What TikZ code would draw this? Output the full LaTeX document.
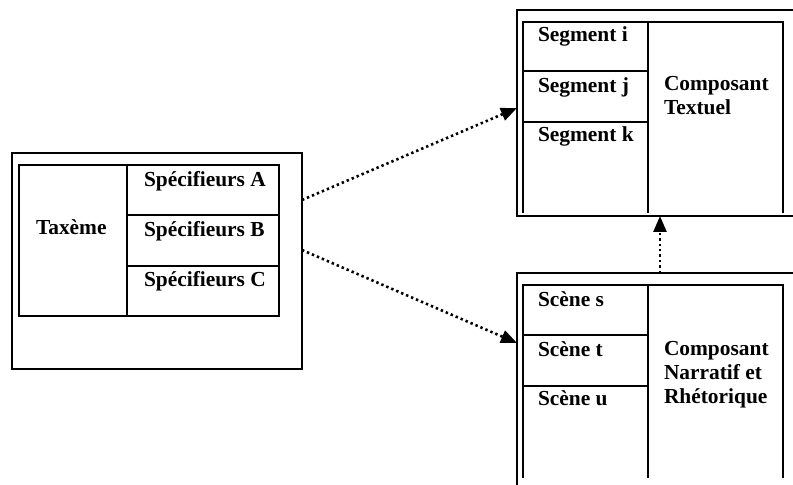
\documentclass[tikz,border=0pt]{standalone}
\usepackage{fontspec}
\setmainfont{Liberation Serif}
\usetikzlibrary{arrows.meta}

\begin{document}
\begin{tikzpicture}[x=.5pt,y=-.5pt,line width=1pt,
	lbl/.style={anchor=base west,inner sep=0pt,font=\fontsize{10.7}{12}\selectfont\bfseries},
	link/.style={line width=1.3pt,dash pattern=on 1.2pt off 1.5pt,-{Triangle[length=8pt,width=6.5pt]}}]
	\useasboundingbox (0,0) rectangle (793,485);
	
	% taxeme
	\draw (12,153) rectangle (302,369);
	\draw (19,165) rectangle (279,316);
	\draw (127,165)--(127,316);
	\draw (127,215)--(279,215);
	\draw (127,266)--(279,266);
	\node[lbl] (tax) at (35,235) {Taxème};
	\node[lbl] (speca) at (143,187) {Spécifieurs A};
	\node[lbl] (specb) at (143,237) {Spécifieurs B};
	\node[lbl] (specc) at (143,287) {Spécifieurs C};
	
	% composant textuel
	\draw (793,10)--(517,10)--(517,216)--(793,216);
	\draw (523,213)--(523,22)--(783,22)--(783,213);
	\draw (648,22)--(648,213);
	\draw (523,71)--(648,71);
	\draw (523,122)--(648,122);
	\node[lbl] (segi) at (537,42) {Segment i};
	\node[lbl] (segj) at (537,93) {Segment j};
	\node[lbl] (segk) at (537,142) {Segment k};
	\node[lbl,align=left] (ctext) at (663,115) {Composant\\Textuel};
	
	% composant narratif
	\draw (793,273)--(517,273)--(517,485);
	\draw (523,478)--(523,285)--(783,285)--(783,478);
	\draw (648,285)--(648,478);
	\draw (523,335)--(648,335);
	\draw (523,386)--(648,386);
	\node[lbl] (scs) at (537,307) {Scène s};
	\node[lbl] (sct) at (537,357) {Scène t};
	\node[lbl] (scu) at (537,406) {Scène u};
	\node[lbl,align=left] (cnarr) at (663,404) {Composant\\Narratif et\\Rhétorique};
	
	\coordinate (ta) at (302,200);
	\coordinate (tb) at (302,250);
	\coordinate (sa) at (517,108);
	\coordinate (sb) at (517,343);
	\coordinate (nu) at (660,273);
	\coordinate (tu) at (660,216);
	\draw[link] (ta)--(sa);
	\draw[link] (tb)--(sb);
	\draw[link] (nu)--(tu);
\end{tikzpicture}
\end{document}
